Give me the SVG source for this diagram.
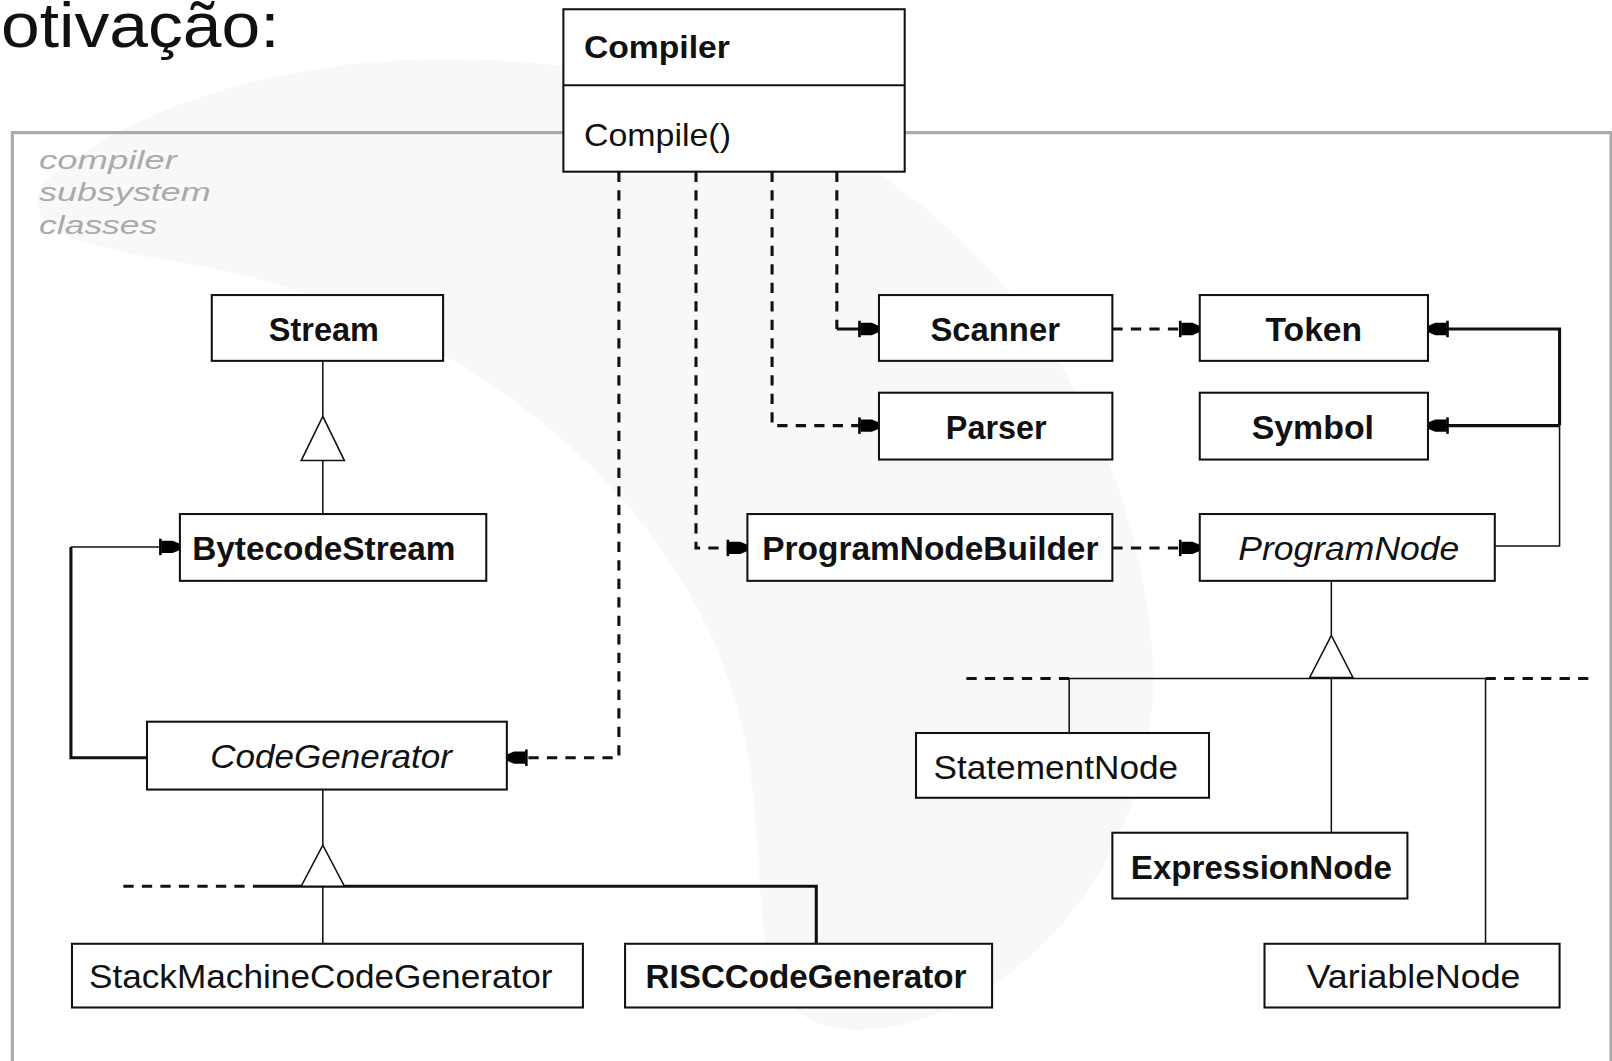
<svg xmlns="http://www.w3.org/2000/svg" width="1612" height="1061" viewBox="0 0 1612 1061">
<style>
.box{fill:#fff;stroke:#111;stroke-width:2}
.lbl{font-family:"Liberation Sans",Arial,sans-serif;font-size:33px;fill:#111;text-anchor:middle}
.b{font-weight:bold}
.it{font-style:italic}
.dash{fill:none;stroke:#111;stroke-width:3;stroke-dasharray:10 8}
.thin{fill:none;stroke:#111;stroke-width:1.5}
.solid{fill:none;stroke:#111;stroke-width:3}
.tri{fill:#fff;stroke:#111;stroke-width:1.5}
</style>
<defs>
<marker id="arr" markerUnits="userSpaceOnUse" markerWidth="24" markerHeight="20" refX="22" refY="10" orient="auto" viewBox="0 0 24 20">
<path d="M3,2 V18" stroke="#000" stroke-width="2.5" fill="none"/>
<path d="M4,4 L15,4 L22,7 L22,13 L15,16 L4,16 Z" fill="#000"/>
</marker>
</defs>
<rect width="1612" height="1061" fill="#fff"/>
<g transform="scale(1.02806)">
<g id="watermark" fill="#f8f8f8">
<path d="M40,180 C200,40 520,20 760,120 C980,210 1100,420 1120,620 C1140,820 1000,980 860,1000 C700,1020 760,860 720,700 C660,460 420,300 200,260 C90,240 20,230 40,180 Z"/>
</g>
<text x="1" y="46" font-family="Liberation Sans,Arial,sans-serif" font-size="62" fill="#111" textLength="271" lengthAdjust="spacingAndGlyphs">otivação:</text>
<g id="frame">
<path d="M12,1040 V129 H548 M880,129 H1567 V1040" fill="none" stroke="#aaa" stroke-width="3"/>
<text font-family="Liberation Sans,Arial,sans-serif" font-size="25" font-style="italic" fill="#aaa">
<tspan x="38" y="164" textLength="134" lengthAdjust="spacingAndGlyphs">compiler</tspan>
<tspan x="38" y="196" textLength="167" lengthAdjust="spacingAndGlyphs">subsystem</tspan>
<tspan x="38" y="228" textLength="115" lengthAdjust="spacingAndGlyphs">classes</tspan>
</text>
</g>
<g id="connectors">
<path class="dash" d="M814,167 V320"/>
<path class="solid" d="M814,320 H855" marker-end="url(#arr)"/>
<path class="dash" d="M751,167 V414 H855" marker-end="url(#arr)"/>
<path class="dash" d="M677,167 V533 H727" marker-end="url(#arr)"/>
<path class="dash" d="M602,167 V737 H493" marker-end="url(#arr)"/>
<path class="dash" d="M1082,320 H1167" marker-end="url(#arr)"/>
<path class="dash" d="M1082,533 H1167" stroke-width="2" marker-end="url(#arr)"/>
<path class="thin" d="M1454,531 H1517 V414"/>
<path class="solid" d="M1517,414 V320 H1389" marker-end="url(#arr)"/>
<path class="solid" d="M1517,414 H1389" marker-end="url(#arr)"/>
<path class="solid" d="M143,737 H69 V532"/>
<path class="thin" d="M69,532 H175" marker-end="url(#arr)"/>
<path class="thin" d="M314,351 V405 M314,448 V500"/>
<polygon class="tri" points="314,405 293,448 335,448"/>
<path class="thin" d="M314,768 V822 M314,862 V918"/>
<path class="dash" d="M120,862 H250"/>
<path class="solid" d="M250,862 H794 V918"/>
<polygon class="tri" points="314,822 293,862 335,862"/>
<path class="thin" d="M1295,565 V618 M1040,660 H1445 M1040,660 V713 M1295,660 V810 M1445,660 V918"/>
<path class="dash" d="M940,660 H1040 M1445,660 H1545" stroke-width="1.5"/>
<polygon class="tri" points="1295,618 1274,659 1316,659"/>
</g>
<g id="Compiler">
<rect class="box" x="548" y="9" width="332" height="158"/>
<line x1="548" y1="83" x2="880" y2="83" stroke="#111" stroke-width="2"/>
<text x="568" y="56" font-family="Liberation Sans,Arial,sans-serif" font-size="31" font-weight="bold" fill="#111" textLength="142" lengthAdjust="spacingAndGlyphs">Compiler</text>
<text x="568" y="142" font-family="Liberation Sans,Arial,sans-serif" font-size="31" fill="#111" textLength="143" lengthAdjust="spacingAndGlyphs">Compile()</text>
</g>
<g id="Stream">
<rect class="box" x="206" y="287" width="225" height="64" stroke-width="3"/>
<text class="lbl b" x="315" y="332" textLength="107" lengthAdjust="spacingAndGlyphs">Stream</text>
</g>
<g id="BytecodeStream">
<rect class="box" x="175" y="500" width="298" height="65"/>
<text class="lbl b" x="315" y="545" textLength="256" lengthAdjust="spacingAndGlyphs">BytecodeStream</text>
</g>
<g id="CodeGenerator">
<rect class="box" x="143" y="702" width="350" height="66"/>
<text class="lbl it" x="322" y="747" textLength="235" lengthAdjust="spacingAndGlyphs">CodeGenerator</text>
</g>
<g id="StackMachineCodeGenerator">
<rect class="box" x="70" y="918" width="497" height="62"/>
<text class="lbl" x="312" y="961" textLength="451" lengthAdjust="spacingAndGlyphs">StackMachineCodeGenerator</text>
</g>
<g id="RISCCodeGenerator">
<rect class="box" x="608" y="918" width="357" height="62"/>
<text class="lbl b" x="784" y="961" textLength="312" lengthAdjust="spacingAndGlyphs">RISCCodeGenerator</text>
</g>
<g id="Scanner">
<rect class="box" x="855" y="287" width="227" height="64" stroke-width="3"/>
<text class="lbl b" x="968" y="332" textLength="126" lengthAdjust="spacingAndGlyphs">Scanner</text>
</g>
<g id="Token">
<rect class="box" x="1167" y="287" width="222" height="64" stroke-width="3"/>
<text class="lbl b" x="1278" y="332" textLength="94" lengthAdjust="spacingAndGlyphs">Token</text>
</g>
<g id="Parser">
<rect class="box" x="855" y="382" width="227" height="65" stroke-width="2.5"/>
<text class="lbl b" x="969" y="427" textLength="98" lengthAdjust="spacingAndGlyphs">Parser</text>
</g>
<g id="Symbol">
<rect class="box" x="1167" y="382" width="222" height="65" stroke-width="2.5"/>
<text class="lbl b" x="1277" y="427" textLength="119" lengthAdjust="spacingAndGlyphs">Symbol</text>
</g>
<g id="ProgramNodeBuilder">
<rect class="box" x="727" y="500" width="355" height="65"/>
<text class="lbl b" x="905" y="545" textLength="327" lengthAdjust="spacingAndGlyphs">ProgramNodeBuilder</text>
</g>
<g id="ProgramNode">
<rect class="box" x="1167" y="500" width="287" height="65"/>
<text class="lbl it" x="1312" y="545" textLength="215" lengthAdjust="spacingAndGlyphs">ProgramNode</text>
</g>
<g id="StatementNode">
<rect class="box" x="891" y="713" width="285" height="63"/>
<text class="lbl" x="1027" y="758" textLength="238" lengthAdjust="spacingAndGlyphs">StatementNode</text>
</g>
<g id="ExpressionNode">
<rect class="box" x="1082" y="810" width="287" height="64" stroke-width="3"/>
<text class="lbl b" x="1227" y="855" textLength="254" lengthAdjust="spacingAndGlyphs">ExpressionNode</text>
</g>
<g id="VariableNode">
<rect class="box" x="1230" y="918" width="287" height="62"/>
<text class="lbl" x="1375" y="961" textLength="208" lengthAdjust="spacingAndGlyphs">VariableNode</text>
</g>
</g>
</svg>
